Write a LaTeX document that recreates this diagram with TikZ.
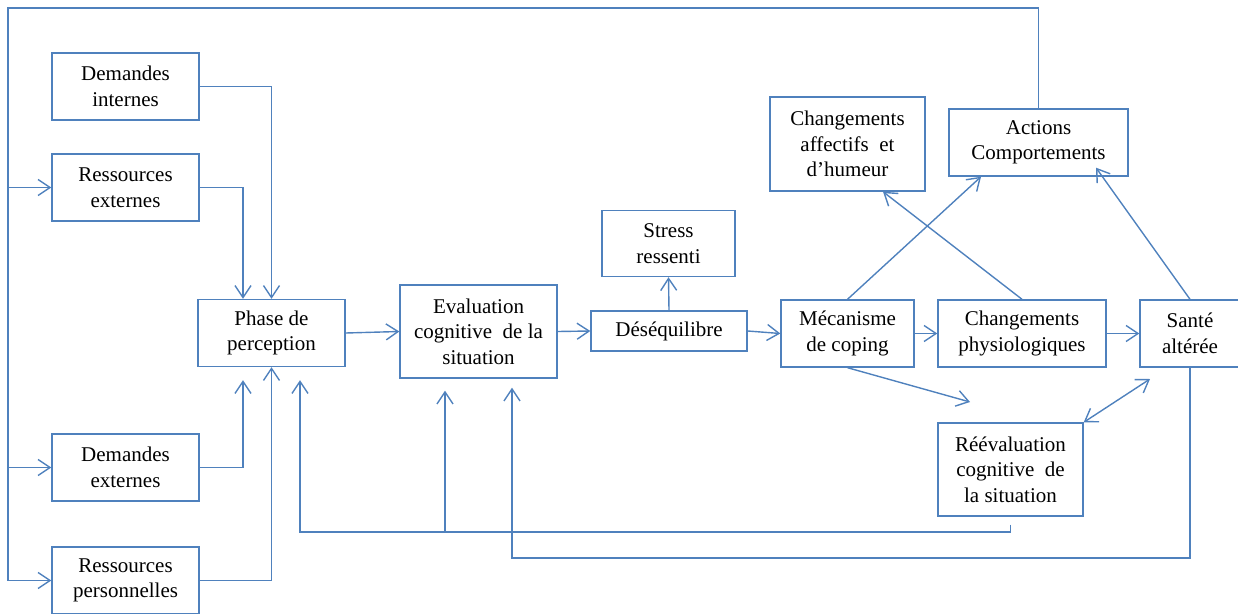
\documentclass[tikz,border=0pt]{standalone}
\usepackage{fontspec}
\setmainfont{Liberation Serif}
\usetikzlibrary{arrows.meta}
\definecolor{lnblue}{RGB}{79,129,189}
\begin{document}
\begin{tikzpicture}[x=1pt,y=-1pt,
  box/.style={draw=lnblue,line width=1.4pt,align=center,inner sep=0pt,text=black,
    font=\fontsize{21}{25.5}\selectfont},
  conn/.style={draw=lnblue,line width=1.4pt},
  arr/.style={conn,-{Straight Barb[length=12pt,width=16pt]}},
  darr/.style={conn,{Straight Barb[length=12pt,width=16pt]}-{Straight Barb[length=12pt,width=16pt]}}]
\useasboundingbox (0,0) rectangle (1238,613);
% boxes
\node[box,minimum width=147,minimum height=67] (di) at (125.5,86.5) {Demandes\\internes};
\node[box,minimum width=147,minimum height=67] (re) at (125.5,187.5) {Ressources\\externes};
\node[box,minimum width=147,minimum height=67] (pp) at (271.5,333) {Phase de\\perception};
\node[box,minimum width=147,minimum height=67] (de) at (125.5,467.5) {Demandes\\externes};
\node[box,minimum width=147,minimum height=67] (rp) at (125.5,580.5) {Ressources\\personnelles};
\node[box,minimum width=157,minimum height=93] (ev) at (478.5,331.5) {Evaluation\\cognitive\ \ de la\\situation};
\node[box,minimum width=133,minimum height=66] (sr) at (668.5,243.5) {Stress\\ressenti};
\node[box,minimum width=156,minimum height=40] (dq) at (669,331) {Déséquilibre};
\node[box,minimum width=133,minimum height=67] (mc) at (847.5,333.5) {Mécanisme\\de coping};
\node[box,minimum width=168,minimum height=67] (cp) at (1022,333.5) {Changements\\physiologiques};
\node[box,minimum width=100,minimum height=67] (sa) at (1190,333.5) {Santé\\altérée};
\node[box,minimum width=155,minimum height=94] (ca) at (847.5,144) {Changements\\affectifs\ \ et\\d’humeur};
\node[box,minimum width=179,minimum height=67] (ac) at (1038.5,142.5) {Actions\\Comportements};
\node[box,minimum width=145,minimum height=93] (rv) at (1010.5,469.5) {Réévaluation\\cognitive\ \ de\\la situation};
% helper coordinates
\coordinate (tl) at (8,8);
\coordinate (ppin1) at ([xshift=-28.5,yshift=-13]pp.south);
\coordinate (ppin2) at ([xshift=28.5,yshift=-13]pp.south);
\coordinate (evin1) at ([xshift=-33.5,yshift=-12]ev.south);
\coordinate (evin2) at ([xshift=33.5,yshift=-9]ev.south);
\coordinate (c1) at (300,532);
\coordinate (c2) at (512,558);
\coordinate (mcend) at (970,402);
\coordinate (saend) at (1150,379);
% feedback loop from Actions
\draw[arr] (ac.north) |- (tl) |- (rp.west);
\draw[arr] (tl |- re.west) -- (re.west);
\draw[arr] (tl |- de.west) -- (de.west);
% inputs to Phase de perception
\draw[arr] (di.east) -| (pp.north);
\draw[arr] (re.east) -| ([xshift=-28.5]pp.north);
\draw[arr] (de.east) -| (ppin1);
\draw[arr] (rp.east) -| (pp.south);
% main chain
\draw[arr] (pp.east) -- (ev.west);
\draw[arr] (ev.east) -- (dq.west);
\draw[arr] (dq.north) -- (sr.south);
\draw[arr] (dq.east) -- (mc.west);
\draw[arr] (mc.east) -- (cp.west);
\draw[arr] (cp.east) -- (sa.west);
% diagonals
\draw[arr] (mc.north) -- ([xshift=-57.5]ac.south);
\draw[arr] (cp.north) -- ([xshift=35.5]ca.south);
\draw[arr] (sa.north) -- ([xshift=57.5,yshift=9]ac.south);
\draw[arr] (mc.south) -- (mcend);
\draw[darr] (rv.north east) -- (saend);
% bottom feedback lines
\draw[arr] ([yshift=-8]rv.south) |- (c1) -- (ppin2);
\draw[arr] (evin1 |- c1) -- (evin1);
\draw[arr] (sa.south) |- (c2) -- (evin2);
\end{tikzpicture}
\end{document}
